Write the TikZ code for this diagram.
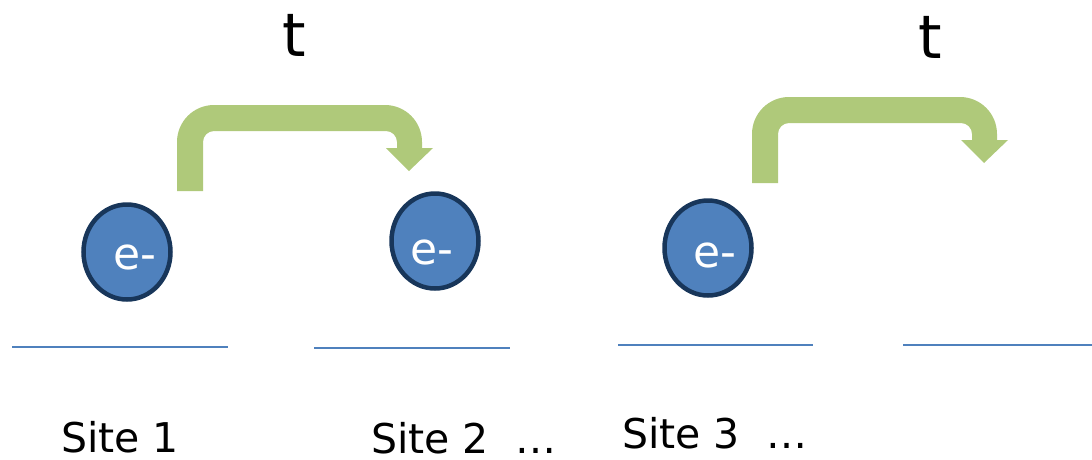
\documentclass[tikz,border=0pt]{standalone}
\usepackage{fontspec}
\setmainfont{DejaVu Sans}
\usetikzlibrary{shapes.geometric}
\definecolor{hopgreen}{RGB}{175,201,122}
\definecolor{elecfill}{RGB}{79,129,189}
\definecolor{elecedge}{RGB}{24,54,90}
\definecolor{siteline}{RGB}{79,129,189}
\tikzset{
  electron/.style={ellipse, fill=elecfill, draw=elecedge, line width=4.5pt,
    minimum width=87pt, minimum height=95pt, inner sep=0pt},
  etext/.style={text=white, font=\fontsize{44}{52}\selectfont, inner sep=0pt},
  hoplabel/.style={font=\fontsize{60}{70}\selectfont, inner sep=0pt},
  sitelabel/.style={font=\fontsize{41}{49}\selectfont, anchor=base west, inner sep=0pt},
  level/.style={draw=siteline, line width=2pt},
  pics/hoparrow/.style={code={
    \fill[hopgreen] (0,0) -- (0,49) arc (180:90:37) -- (208,86) arc (90:0:37)
      -- (245,43) -- (256,43) -- (232,20) -- (209,43) -- (220,43) -- (220,49)
      arc (0:90:11) -- (37,60) arc (90:180:11) -- (26,0) -- cycle;
  }}
}
\begin{document}
\begin{tikzpicture}[x=1pt, y=1pt]
  \useasboundingbox (0,-459) rectangle (1092,0);

  % hopping arrows with their labels
  \pic at (177,-191) {hoparrow};
  \pic at (752,-183) {hoparrow};
  \node[hoplabel] (t1) at (294,-35) {t};
  \node[hoplabel] (t2) at (930,-37) {t};

  % electrons
  \node[electron] (e1) at (127,-252) {};
  \node[electron] (e2) at (435,-241) {};
  \node[electron] (e3) at (708,-248) {};
  \node[etext] (l1) at (135,-257) {e-};
  \node[etext] (l2) at (432,-252) {e-};
  \node[etext] (l3) at (715,-255) {e-};

  % site energy levels
  \coordinate (a1) at (12,-347);  \coordinate (b1) at (228,-347);
  \coordinate (a2) at (314,-348); \coordinate (b2) at (510,-348);
  \coordinate (a3) at (618,-345); \coordinate (b3) at (813,-345);
  \coordinate (a4) at (903,-345); \coordinate (b4) at (1092,-345);
  \draw[level] (a1) -- (b1);
  \draw[level] (a2) -- (b2);
  \draw[level] (a3) -- (b3);
  \draw[level] (a4) -- (b4);

  % site labels
  \node[sitelabel] (s1) at (61,-452) {Site 1};
  \node[sitelabel] (s2) at (371,-453) {Site 2~~…};
  \node[sitelabel] (s3) at (622,-448) {Site 3~~…};
\end{tikzpicture}
\end{document}
